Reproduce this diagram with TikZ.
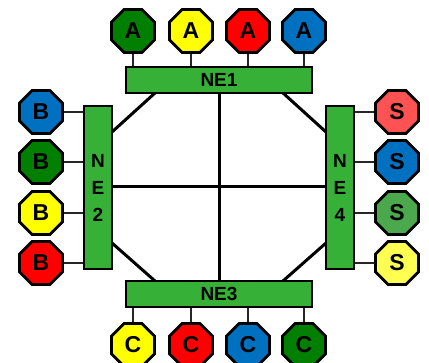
\documentclass[tikz,border=0pt]{standalone}
\usepackage{fontspec}
\setmainfont{Liberation Sans}
\usetikzlibrary{shapes.geometric}
\definecolor{dgreen}{HTML}{007F00}
\definecolor{myyellow}{HTML}{FFFF00}
\definecolor{myred}{HTML}{FF0000}
\definecolor{myblue}{HTML}{0070C0}
\definecolor{lred}{HTML}{FF5252}
\definecolor{mgreen}{HTML}{4CA84C}
\definecolor{lyellow}{HTML}{FFFF52}
\definecolor{boxgreen}{HTML}{36B036}
\tikzset{
  oct/.style={regular polygon, regular polygon sides=8, draw=black, line width=2.8pt,
    minimum size=46.5pt, inner sep=0pt, font=\fontsize{23}{23}\selectfont\bfseries},
  nebox/.style={draw=black, line width=2pt, fill=boxgreen, inner sep=0pt,
    font=\fontsize{19}{19}\selectfont\bfseries},
  link/.style={line width=2pt, draw=black!85},
  core/.style={line width=3pt, draw=black}
}
\begin{document}
\begin{tikzpicture}[x=1pt,y=-1pt]
\useasboundingbox (0,0) rectangle (429,363);
% NE boxes
\node[nebox, minimum width=186pt, minimum height=26pt] (ne1) at (219,80) {NE1};
\node[nebox, minimum width=186pt, minimum height=26pt] (ne3) at (219,294) {NE3};
\node[nebox, minimum width=28pt, minimum height=163pt] (ne2) at (98,187.5) {};
\node[nebox, minimum width=28pt, minimum height=163pt] (ne4) at (340,187.5) {};
\node[font=\fontsize{19}{19}\selectfont\bfseries, align=center, inner sep=0pt] (ne2t) at (98,187.5) {N\\[8pt]E\\[8pt]2};
\node[font=\fontsize{19}{19}\selectfont\bfseries, align=center, inner sep=0pt] (ne4t) at (340,187.5) {N\\[8pt]E\\[8pt]4};
% core coordinates
\coordinate (t1) at (155,93);
\coordinate (t2) at (283,93);
\coordinate (tm) at (219,93);
\coordinate (b1) at (155,281);
\coordinate (b2) at (283,281);
\coordinate (bm) at (219,281);
\coordinate (l1) at (112,132);
\coordinate (l2) at (112,243);
\coordinate (lm) at (112,187);
\coordinate (r1) at (326,132);
\coordinate (r2) at (326,243);
\coordinate (rm) at (326,187);
\draw[core] (t1) -- (l1);
\draw[core] (t2) -- (r1);
\draw[core] (b1) -- (l2);
\draw[core] (b2) -- (r2);
\draw[core] (tm) -- (bm);
\draw[core] (lm) -- (rm);
% A octagons
\foreach \x/\c [count=\i] in {133/dgreen,191/myyellow,248/myred,304/myblue}{
  \node[oct, fill=\c] (a\i) at (\x,31) {A};
  \draw[link] (a\i.south) -- (a\i.south |- ne1.north);
}
% C octagons
\foreach \x/\c [count=\i] in {133/myyellow,191/myred,248/myblue,304/dgreen}{
  \node[oct, fill=\c] (c\i) at (\x,345) {C};
  \draw[link] (c\i.north) -- (c\i.north |- ne3.south);
}
% B octagons
\foreach \y/\c [count=\i] in {112/myblue,162/dgreen,213/myyellow,263/myred}{
  \node[oct, fill=\c] (b\i) at (41,\y) {B};
  \draw[link] (b\i.east) -- (b\i.east -| ne2.west);
}
% S octagons
\foreach \y/\c [count=\i] in {112/lred,162/myblue,213/mgreen,263/lyellow}{
  \node[oct, fill=\c] (s\i) at (397,\y) {S};
  \draw[link] (s\i.west) -- (s\i.west -| ne4.east);
}
\end{tikzpicture}
\end{document}
